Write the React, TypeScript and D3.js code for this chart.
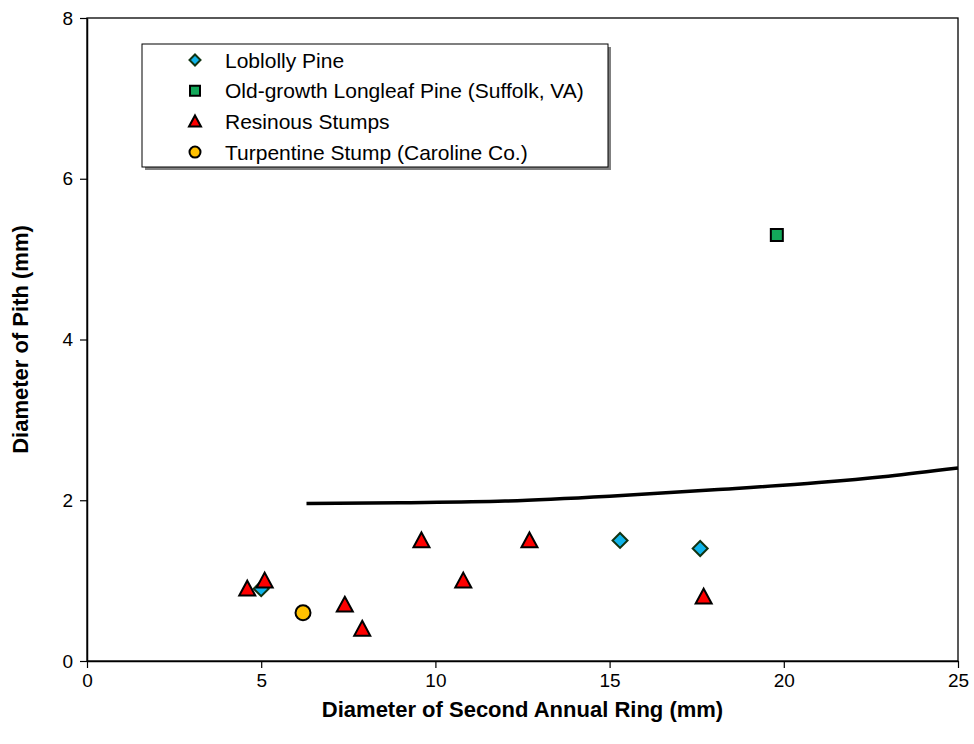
import React, { useRef, useEffect } from 'react';
import * as d3 from 'd3';

interface Pt {
  x: number;
  y: number;
}

const loblolly: Pt[] = [
  { x: 5.0, y: 0.9 },
  { x: 15.3, y: 1.5 },
  { x: 17.6, y: 1.4 },
];

const longleaf: Pt[] = [{ x: 19.8, y: 5.3 }];

const resinous: Pt[] = [
  { x: 4.6, y: 0.9 },
  { x: 5.1, y: 1.0 },
  { x: 7.4, y: 0.7 },
  { x: 7.9, y: 0.4 },
  { x: 9.6, y: 1.5 },
  { x: 10.8, y: 1.0 },
  { x: 12.7, y: 1.5 },
  { x: 17.7, y: 0.8 },
];

const turpentine: Pt[] = [{ x: 6.2, y: 0.6 }];

// curve
const curvePts: Pt[] = [
  { x: 6.3, y: 1.96 },
  { x: 9, y: 1.97 },
  { x: 12, y: 1.99 },
  { x: 15, y: 2.05 },
  { x: 18, y: 2.13 },
  { x: 21, y: 2.22 },
  { x: 23, y: 2.3 },
  { x: 25, y: 2.4 },
];

const xTicks = [0, 5, 10, 15, 20, 25];
const yTicks = [0, 2, 4, 6, 8];

const legendLabels = [
  'Loblolly Pine',
  'Old-growth Longleaf Pine (Suffolk, VA)',
  'Resinous Stumps',
  'Turpentine Stump (Caroline Co.)',
];

const W = 974;
const H = 744;
const margin = { top: 18, right: 16, bottom: 83, left: 87 };
const font = 'Arial, "Liberation Sans", sans-serif';

type Kind = 'diamond' | 'square' | 'triangle' | 'circle';
const styles: Record<Kind, { fill: string; stroke: string }> = {
  diamond: { fill: '#10b4ea', stroke: '#113311' },
  square: { fill: '#13a85a', stroke: '#000000' },
  triangle: { fill: '#ff0000', stroke: '#000000' },
  circle: { fill: '#ffc000', stroke: '#000000' },
};

const markerPath = (kind: Kind, s: number) => {
  const h = s / 2;
  if (kind === 'diamond') return `M0,${-h}L${h},0L0,${h}L${-h},0Z`;
  if (kind === 'square') return `M${-h},${-h}H${h}V${h}H${-h}Z`;
  if (kind === 'triangle') return `M0,${-h}L${h},${h * 0.85}L${-h},${h * 0.85}Z`;
  return d3.arc()({ innerRadius: 0, outerRadius: h, startAngle: 0, endAngle: Math.PI * 2 }) || '';
};

const ScatterChart: React.FC = () => {
  const svgRef = useRef<SVGSVGElement | null>(null);

  useEffect(() => {
    const svg = d3.select(svgRef.current);
    svg.selectAll('*').remove();

    const x = d3.scaleLinear().domain([0, 25]).range([margin.left, W - margin.right]);
    const y = d3.scaleLinear().domain([0, 8]).range([H - margin.bottom, margin.top]);

    // frame
    svg.append('rect')
      .attr('x', x(0)).attr('y', y(8))
      .attr('width', x(25) - x(0)).attr('height', y(0) - y(8))
      .attr('fill', 'none').attr('stroke', '#000').attr('stroke-width', 1.3);

    const xAxis: any = d3.axisBottom(x).tickValues(xTicks).tickSize(7).tickSizeOuter(0).tickPadding(6);
    const yAxis: any = d3.axisLeft(y).tickValues(yTicks).tickSize(7).tickSizeOuter(0).tickPadding(7);

    const gx = svg.append('g').attr('transform', `translate(0,${y(0)})`).call(xAxis);
    const gy = svg.append('g').attr('transform', `translate(${x(0)},0)`).call(yAxis);
    [gx, gy].forEach(g => {
      g.select('.domain').attr('stroke-width', 1.5);
      g.selectAll('.tick line').attr('stroke-width', 1.2);
      g.selectAll('.tick text').attr('font-family', font).attr('font-size', 19).attr('fill', '#000');
    });

    // axis titles
    svg.append('text')
      .attr('x', (x(0) + x(25)) / 2).attr('y', 717)
      .attr('text-anchor', 'middle').attr('font-family', font)
      .attr('font-weight', 'bold').attr('font-size', 22)
      .text('Diameter of Second Annual Ring (mm)');

    svg.append('text')
      .attr('transform', `translate(28,${(y(0) + y(8)) / 2}) rotate(-90)`)
      .attr('text-anchor', 'middle').attr('font-family', font)
      .attr('font-weight', 'bold').attr('font-size', 22)
      .text('Diameter of Pith (mm)');

    // fitted curve
    const line = d3.line<Pt>().x(d => x(d.x)).y(d => y(d.y)).curve(d3.curveMonotoneX);
    svg.append('path').datum(curvePts)
      .attr('d', line).attr('fill', 'none').attr('stroke', '#000').attr('stroke-width', 3.5);

    const series: { data: Pt[]; kind: Kind; size: number }[] = [
      { data: loblolly, kind: 'diamond', size: 15 },
      { data: longleaf, kind: 'square', size: 12 },
      { data: resinous, kind: 'triangle', size: 16 },
      { data: turpentine, kind: 'circle', size: 15 },
    ];

    series.forEach(s => {
      svg.append('g').selectAll('path').data(s.data).join('path')
        .attr('transform', d => `translate(${x(d.x)},${y(d.y)})`)
        .attr('d', markerPath(s.kind, s.size))
        .attr('fill', styles[s.kind].fill)
        .attr('stroke', styles[s.kind].stroke)
        .attr('stroke-width', 2)
        .attr('stroke-linejoin', 'miter');
    });

    // legend
    const lg = svg.append('g');
    const lx = 142, ly = 44, lw = 466, lh = 123;
    lg.append('rect').attr('x', lx + 3).attr('y', ly + 3).attr('width', lw).attr('height', lh).attr('fill', '#808080');
    lg.append('rect').attr('x', lx).attr('y', ly).attr('width', lw).attr('height', lh)
      .attr('fill', '#fff').attr('stroke', '#000').attr('stroke-width', 1);
    const legendKinds: Kind[] = ['diamond', 'square', 'triangle', 'circle'];
    const legendSizes = [11, 10, 12, 11];
    legendLabels.forEach((label, i) => {
      const cy = 60 + i * 30.7;
      lg.append('path')
        .attr('transform', `translate(195,${cy})`)
        .attr('d', markerPath(legendKinds[i], legendSizes[i]))
        .attr('fill', styles[legendKinds[i]].fill)
        .attr('stroke', styles[legendKinds[i]].stroke)
        .attr('stroke-width', 2);
      lg.append('text')
        .attr('x', 225).attr('y', cy).attr('dy', '0.36em')
        .attr('font-family', font).attr('font-size', 21)
        .text(label);
    });
  }, []);

  return <svg ref={svgRef} width={W} height={H} style={{ display: 'block' }} />;
};

export default function App() {
  return (
    <div style={{ position: 'absolute', left: 0, top: 0 }}>
      <ScatterChart />
    </div>
  );
}
